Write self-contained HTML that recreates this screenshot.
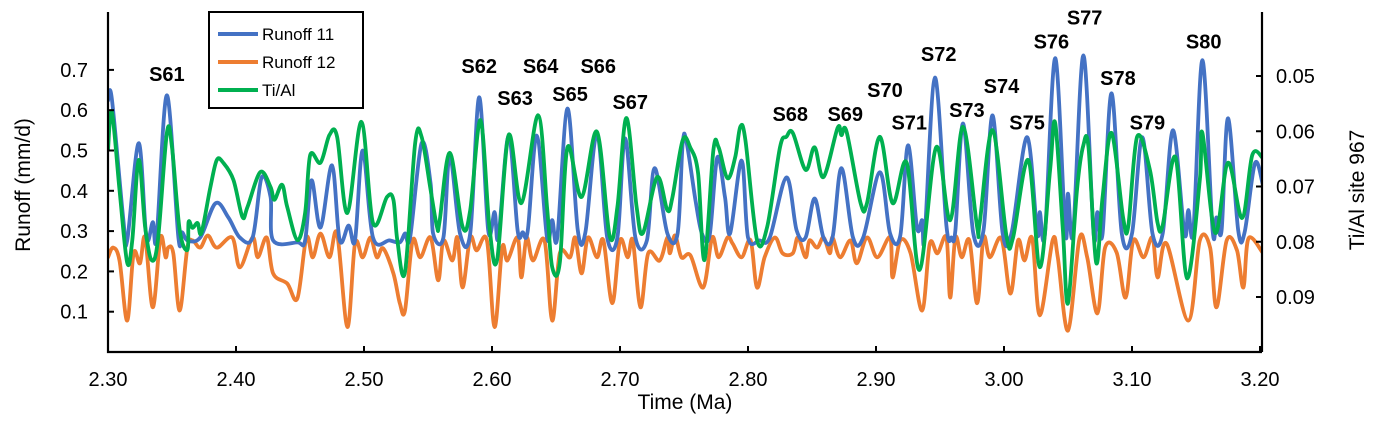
<!DOCTYPE html>
<html><head><meta charset="utf-8"><style>
html,body{margin:0;padding:0;background:#fff;}
svg{display:block;font-family:"Liberation Sans",Arial,sans-serif;}
</style></head><body>
<svg id="chart" width="1383" height="425" viewBox="0 0 1383 425" style="position:absolute;left:0;top:0">
<g id="plot"></g>
<g id="axes"></g>
<text x="685" y="409" text-anchor="middle" font-size="21">Time (Ma)</text>
<text transform="translate(30,185) rotate(-90)" text-anchor="middle" font-size="21">Runoff (mm/d)</text>
<text transform="translate(1364,190) rotate(-90)" text-anchor="middle" font-size="21">Ti/Al site 967</text>
<g>
<rect x="209" y="12" width="154" height="96" fill="#fff" stroke="#000" stroke-width="2"/>
<line x1="218" y1="34" x2="258" y2="34" stroke="#4472C4" stroke-width="4"/>
<text x="262" y="40" font-size="17">Runoff 11</text>
<line x1="218" y1="62" x2="258" y2="62" stroke="#ED7D31" stroke-width="4"/>
<text x="262" y="68" font-size="17">Runoff 12</text>
<line x1="218" y1="90" x2="258" y2="90" stroke="#00B050" stroke-width="4"/>
<text x="262" y="96" font-size="17">Ti/Al</text>
</g>
</svg>
<script>
const xTickLabels=["2.30","2.40","2.50","2.60","2.70","2.80","2.90","3.00","3.10","3.20"];
const xTicks=[2.3,2.4,2.5,2.6,2.7,2.8,2.9,3.0,3.1,3.2];
const yTicks=[0.1,0.2,0.3,0.4,0.5,0.6,0.7];
const yTickLabels=["0.1","0.2","0.3","0.4","0.5","0.6","0.7"];
const rTicks=[0.05,0.06,0.07,0.08,0.09];
const rTickLabels=["0.05","0.06","0.07","0.08","0.09"];

const r11T=[2.300,2.303,2.312,2.315,2.324,2.330,2.335,2.338,2.346,2.355,2.358,2.362,2.372,2.384,2.394,2.403,2.413,2.420,2.427,2.429,2.448,2.454,2.459,2.466,2.475,2.481,2.488,2.493,2.499,2.507,2.520,2.528,2.532,2.536,2.545,2.552,2.554,2.562,2.567,2.575,2.583,2.590,2.597,2.602,2.605,2.613,2.620,2.624,2.628,2.635,2.643,2.647,2.651,2.659,2.667,2.673,2.682,2.690,2.698,2.704,2.712,2.721,2.727,2.737,2.745,2.749,2.752,2.759,2.764,2.770,2.776,2.782,2.786,2.795,2.800,2.809,2.817,2.830,2.838,2.845,2.852,2.859,2.866,2.873,2.882,2.890,2.903,2.911,2.919,2.925,2.932,2.936,2.938,2.946,2.955,2.959,2.962,2.968,2.976,2.984,2.991,2.999,3.006,3.018,3.026,3.028,3.032,3.040,3.048,3.050,3.054,3.062,3.070,3.073,3.077,3.084,3.092,3.100,3.108,3.116,3.124,3.132,3.141,3.144,3.148,3.155,3.163,3.166,3.170,3.175,3.183,3.188,3.196,3.202];
const r11V=[0.624,0.629,0.327,0.277,0.518,0.284,0.322,0.284,0.637,0.284,0.297,0.277,0.284,0.369,0.334,0.284,0.284,0.433,0.384,0.277,0.272,0.277,0.426,0.309,0.463,0.277,0.314,0.277,0.500,0.284,0.277,0.272,0.294,0.284,0.518,0.418,0.294,0.284,0.488,0.294,0.294,0.632,0.302,0.347,0.284,0.537,0.302,0.297,0.302,0.537,0.284,0.327,0.284,0.604,0.302,0.297,0.542,0.284,0.284,0.530,0.284,0.277,0.456,0.294,0.294,0.518,0.520,0.376,0.294,0.289,0.483,0.384,0.294,0.475,0.284,0.277,0.284,0.433,0.302,0.284,0.381,0.284,0.284,0.456,0.284,0.284,0.446,0.294,0.289,0.513,0.309,0.327,0.284,0.681,0.314,0.284,0.302,0.567,0.294,0.302,0.587,0.294,0.297,0.533,0.294,0.347,0.294,0.729,0.294,0.393,0.294,0.736,0.294,0.347,0.294,0.642,0.294,0.294,0.533,0.294,0.294,0.550,0.294,0.352,0.302,0.724,0.302,0.334,0.302,0.580,0.302,0.297,0.468,0.418];

const r12T=[2.300,2.304,2.309,2.315,2.320,2.325,2.329,2.335,2.341,2.345,2.347,2.351,2.356,2.362,2.366,2.372,2.378,2.385,2.397,2.403,2.413,2.417,2.424,2.429,2.440,2.448,2.455,2.460,2.466,2.473,2.479,2.487,2.493,2.499,2.505,2.510,2.515,2.523,2.528,2.532,2.538,2.544,2.552,2.558,2.562,2.569,2.573,2.577,2.583,2.588,2.596,2.602,2.608,2.612,2.620,2.623,2.627,2.632,2.641,2.647,2.653,2.661,2.665,2.670,2.675,2.682,2.687,2.694,2.700,2.706,2.710,2.716,2.722,2.731,2.737,2.739,2.743,2.748,2.755,2.765,2.772,2.777,2.784,2.788,2.795,2.802,2.807,2.813,2.821,2.827,2.835,2.839,2.845,2.848,2.854,2.859,2.864,2.866,2.872,2.880,2.885,2.893,2.901,2.911,2.913,2.919,2.927,2.936,2.942,2.948,2.955,2.958,2.962,2.967,2.973,2.979,2.984,2.989,2.998,3.005,3.011,3.016,3.022,3.028,3.038,3.042,3.050,3.059,3.065,3.073,3.079,3.088,3.095,3.101,3.109,3.116,3.120,3.127,3.144,3.153,3.161,3.166,3.174,3.182,3.187,3.191,3.202];
const r12V=[0.235,0.259,0.227,0.078,0.245,0.220,0.284,0.111,0.284,0.235,0.259,0.245,0.103,0.259,0.277,0.259,0.289,0.259,0.284,0.210,0.284,0.235,0.284,0.195,0.170,0.133,0.284,0.235,0.294,0.235,0.294,0.062,0.269,0.235,0.284,0.235,0.257,0.195,0.121,0.103,0.277,0.235,0.284,0.178,0.277,0.227,0.284,0.160,0.284,0.252,0.277,0.062,0.259,0.227,0.284,0.185,0.284,0.227,0.277,0.078,0.245,0.235,0.284,0.195,0.284,0.235,0.277,0.121,0.277,0.235,0.277,0.111,0.245,0.227,0.284,0.245,0.289,0.235,0.240,0.160,0.284,0.235,0.284,0.269,0.235,0.277,0.160,0.235,0.284,0.245,0.245,0.284,0.235,0.277,0.259,0.284,0.245,0.284,0.235,0.277,0.220,0.284,0.235,0.284,0.185,0.277,0.245,0.103,0.269,0.245,0.284,0.135,0.284,0.235,0.277,0.121,0.284,0.235,0.282,0.145,0.277,0.227,0.282,0.091,0.277,0.235,0.053,0.282,0.235,0.096,0.259,0.247,0.135,0.277,0.235,0.284,0.185,0.269,0.078,0.277,0.259,0.111,0.277,0.252,0.160,0.282,0.247];

const tiT=[2.300,2.303,2.309,2.315,2.319,2.324,2.329,2.334,2.339,2.346,2.350,2.356,2.362,2.363,2.366,2.370,2.373,2.380,2.385,2.390,2.398,2.405,2.409,2.419,2.427,2.430,2.436,2.440,2.448,2.454,2.458,2.466,2.473,2.479,2.487,2.498,2.507,2.518,2.523,2.526,2.532,2.540,2.545,2.552,2.557,2.559,2.567,2.577,2.583,2.591,2.598,2.604,2.613,2.623,2.636,2.643,2.647,2.653,2.659,2.670,2.682,2.692,2.698,2.705,2.713,2.718,2.729,2.737,2.741,2.749,2.755,2.761,2.766,2.773,2.777,2.784,2.790,2.794,2.798,2.807,2.815,2.825,2.830,2.835,2.845,2.852,2.859,2.870,2.873,2.877,2.888,2.893,2.903,2.913,2.924,2.934,2.947,2.958,2.968,2.979,2.981,2.991,3.002,3.007,3.019,3.028,3.036,3.040,3.046,3.050,3.057,3.062,3.066,3.072,3.077,3.084,3.093,3.097,3.104,3.114,3.120,3.124,3.134,3.143,3.153,3.155,3.165,3.175,3.186,3.194,3.202];
const tiV=[0.0634,0.0565,0.0706,0.0838,0.0797,0.0652,0.0773,0.0833,0.0797,0.0603,0.0629,0.0779,0.0815,0.0764,0.0775,0.0766,0.0784,0.0701,0.0652,0.0657,0.0688,0.0755,0.0737,0.0674,0.0701,0.0724,0.0697,0.0737,0.0797,0.0748,0.0643,0.0657,0.0607,0.0610,0.0748,0.0583,0.0766,0.0719,0.0724,0.0797,0.0855,0.0621,0.0610,0.0706,0.0773,0.0764,0.0639,0.0773,0.0743,0.0580,0.0773,0.0833,0.0607,0.0730,0.0571,0.0737,0.0846,0.0838,0.0629,0.0719,0.0601,0.0791,0.0737,0.0576,0.0737,0.0784,0.0683,0.0743,0.0719,0.0616,0.0630,0.0676,0.0833,0.0634,0.0629,0.0685,0.0647,0.0592,0.0616,0.0797,0.0773,0.0629,0.0610,0.0603,0.0670,0.0629,0.0683,0.0594,0.0607,0.0601,0.0730,0.0730,0.0610,0.0730,0.0657,0.0851,0.0629,0.0761,0.0592,0.0773,0.0766,0.0598,0.0791,0.0793,0.0652,0.0846,0.0670,0.0585,0.0779,0.0911,0.0706,0.0625,0.0629,0.0838,0.0719,0.0603,0.0755,0.0773,0.0610,0.0670,0.0766,0.0770,0.0647,0.0866,0.0688,0.0603,0.0784,0.0657,0.0757,0.0643,0.0648];

const stageNames=["S61","S62","S63","S64","S65","S66","S67","S68","S69","S70","S71","S72","S73","S74","S75","S76","S77","S78","S79","S80"];
const stageT=[2.346,2.590,2.618,2.638,2.661,2.683,2.708,2.833,2.876,2.907,2.926,2.949,2.971,2.998,3.018,3.037,3.063,3.089,3.112,3.156];
const stageV=[0.69,0.71,0.63,0.71,0.64,0.71,0.62,0.59,0.59,0.65,0.57,0.74,0.60,0.66,0.57,0.77,0.83,0.68,0.57,0.77];

const NS="http://www.w3.org/2000/svg";
const X0=108,X1=1262,Y0=352;
function xs(t){return X0+(t-2.3)/0.9*(1260-108);}
function ys(v){return Y0-v*403;}
function yr(v){return 76+(v-0.05)*5525;}
function mk(tag,attrs,parent){const e=document.createElementNS(NS,tag);for(const k in attrs)e.setAttribute(k,attrs[k]);parent.appendChild(e);return e;}
const plot=document.getElementById('plot'),axes=document.getElementById('axes');
const defs=mk('defs',{},document.getElementById('chart'));
const cp=mk('clipPath',{id:'clip'},defs);mk('rect',{x:X0,y:0,width:X1-X0,height:Y0},cp);
plot.setAttribute('clip-path','url(#clip)');

function pathD(pts){let d='M'+pts[0][0].toFixed(1)+','+pts[0][1].toFixed(1);
 for(let i=0;i<pts.length-1;i++){const p0=pts[Math.max(0,i-1)],p1=pts[i],p2=pts[i+1],p3=pts[Math.min(pts.length-1,i+2)];
  const c1=[p1[0]+(p2[0]-p0[0])/6,p1[1]+(p2[1]-p0[1])/6],c2=[p2[0]-(p3[0]-p1[0])/6,p2[1]-(p3[1]-p1[1])/6];
  d+='C'+c1[0].toFixed(1)+','+c1[1].toFixed(1)+' '+c2[0].toFixed(1)+','+c2[1].toFixed(1)+' '+p2[0].toFixed(1)+','+p2[1].toFixed(1);}
 return d;}
function series(T,V,yf,color,name){const pts=T.map((t,i)=>[xs(t),yf(V[i])]);
 const p=mk('path',{d:pathD(pts),fill:'none',stroke:color,'stroke-width':3.8,'stroke-linejoin':'round','stroke-linecap':'round'},plot);
 
 }
series(r12T,r12V,ys,'#ED7D31','runoff-12-line');
series(r11T,r11V,ys,'#4472C4','runoff-11-line');
series(tiT,tiV,yr,'#00B050','ti-al-line');

mk('path',{d:`M${X0},12V${Y0}H${X1}M${X1},12V${Y0}`,fill:'none',stroke:'#000','stroke-width':2.2},axes);
xTicks.forEach((t,i)=>{const x=xs(t);mk('line',{x1:x,x2:x,y1:Y0,y2:Y0-6,stroke:'#000','stroke-width':2},axes);
 const tx=mk('text',{x:x,y:386,'text-anchor':'middle','font-size':20},axes);tx.textContent=xTickLabels[i];
 
 });
yTicks.forEach((v,i)=>{const y=ys(v);mk('line',{x1:X0,x2:X0+6,y1:y,y2:y,stroke:'#000','stroke-width':2},axes);
 const tx=mk('text',{x:88,y:y+7,'text-anchor':'end','font-size':20},axes);tx.textContent=yTickLabels[i];
 
 });
rTicks.forEach((v,i)=>{const y=yr(v);mk('line',{x1:X1,x2:X1-6,y1:y,y2:y,stroke:'#000','stroke-width':2},axes);
 const tx=mk('text',{x:1276,y:y+7,'font-size':20},axes);tx.textContent=rTickLabels[i];
 
 });
stageNames.forEach((s,i)=>{const tx=mk('text',{x:xs(stageT[i]),y:ys(stageV[i])+7,'text-anchor':'middle','font-size':20,'font-weight':'bold'},axes);tx.textContent=s;
 
 });
</script>
</body></html>
